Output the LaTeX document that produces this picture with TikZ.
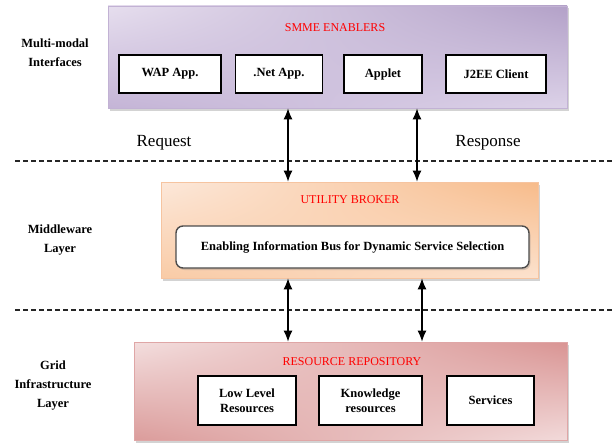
\documentclass[tikz,border=0pt]{standalone}
\usepackage{fontspec}
\setmainfont{Liberation Serif}
\usetikzlibrary{arrows.meta,shadows,shadings,calc}
\definecolor{purpA}{HTML}{E6DEEE}
\definecolor{purpB}{HTML}{B3A1C8}
\definecolor{purpC}{HTML}{C4B4D6}
\definecolor{purpD}{HTML}{DCD2E8}
\definecolor{purpE}{HTML}{C2B2D4}
\definecolor{orA}{HTML}{FCE8DA}
\definecolor{orB}{HTML}{F7BB8A}
\definecolor{orC}{HTML}{F9CBA6}
\definecolor{orD}{HTML}{FCE2CE}
\definecolor{orE}{HTML}{F6C4A0}
\definecolor{rdA}{HTML}{F3DEDE}
\definecolor{rdB}{HTML}{D99493}
\definecolor{rdC}{HTML}{DB9C9B}
\definecolor{rdD}{HTML}{F2DADA}
\definecolor{rdE}{HTML}{DFA6A6}
\begin{document}
\begin{tikzpicture}[x=1pt,y=-1pt,
  layerbox/.style={draw=#1, line width=0.8pt, inner sep=0pt,
    drop shadow={opacity=0.35,shadow xshift=2pt,shadow yshift=-2.5pt}},
  appbox/.style={draw=black, line width=1.4pt, fill=white, inner sep=0pt,
    align=center, font=\fontsize{12.5}{15}\selectfont\bfseries},
  titletext/.style={text=red, font=\fontsize{12}{14}\selectfont},
  sidelabel/.style={align=center, font=\fontsize{12.5}{19}\selectfont\bfseries},
  flowtext/.style={font=\fontsize{17}{19}\selectfont},
  arr/.style={line width=1.1pt, {Latex[length=11pt,width=9pt]}-{Latex[length=11pt,width=9pt]}},
  dashline/.style={line width=1.1pt, draw=black!85, dash pattern=on 5pt off 3pt}
]
\useasboundingbox (0,0) rectangle (616,444);

% layer containers
\node[layerbox=purpE, minimum width=459pt, minimum height=102pt,
  upper left=purpA, upper right=purpB, lower left=purpC, lower right=purpD]
  (top) at (337.5,57) {};
\node[layerbox=orE, minimum width=377pt, minimum height=96pt,
  upper left=orA, upper right=orB, lower left=orC, lower right=orD]
  (broker) at (349.5,230) {};
\node[layerbox=rdE, minimum width=433pt, minimum height=98pt,
  upper left=rdA, upper right=rdB, lower left=rdC, lower right=rdD]
  (repo) at (350.5,391) {};

% titles
\node[titletext] (t1) at (335,28) {SMME ENABLERS};
\node[titletext] (t2) at (350,200) {UTILITY BROKER};
\node[titletext] (t3) at (352,362) {RESOURCE REPOSITORY};

% top layer boxes
\node[appbox, minimum width=102pt, minimum height=38pt] (wap) at (170,74) {WAP App.};
\node[appbox, minimum width=87pt, minimum height=38pt] (net) at (279,74) {.Net App.};
\node[appbox, minimum width=78pt, minimum height=38pt] (applet) at (383,74) {Applet};
\node[appbox, minimum width=100pt, minimum height=38pt] (j2ee) at (496,74) {J2EE Client};

% middleware inner bus
\node[draw=black!70, line width=1.4pt, fill=white, rounded corners=7pt,
  minimum width=353pt, minimum height=42pt, inner sep=0pt,
  drop shadow={opacity=0.3,shadow xshift=1.5pt,shadow yshift=-2pt},
  font=\fontsize{12.5}{15}\selectfont\bfseries]
  (bus) at (352.5,247) {Enabling Information Bus for Dynamic Service Selection};

% bottom boxes
\node[appbox, minimum width=98pt, minimum height=49pt] (low) at (247,400.5) {Low Level\\Resources};
\node[appbox, minimum width=103pt, minimum height=49pt] (know) at (370.5,400.5) {Knowledge\\resources};
\node[appbox, minimum width=87pt, minimum height=49pt] (serv) at (490.5,400.5) {Services};

% side labels
\node[sidelabel] (l1) at (55,53) {Multi-modal\\Interfaces};
\node[sidelabel] (l2) at (60,240) {Middleware\\Layer};
\node[sidelabel] (l3) at (53,386) {Grid\\Infrastructure\\Layer};

% request / response
\node[flowtext] (req) at (164,143) {Request};
\node[flowtext] (resp) at (488,143) {Response};

% dashed separators
\coordinate (d1l) at (15,161);
\coordinate (d1r) at (612,161);
\coordinate (d2l) at (15,310);
\coordinate (d2r) at (612,310);
\draw[dashline] (d1l) -- (d1r);
\draw[dashline] (d2l) -- (d2r);

% arrows
\coordinate (c1) at (288,0);
\coordinate (c2) at (417,0);
\coordinate (c3) at (288,0);
\coordinate (c4) at (422,0);
\draw[arr] (top.south -| c1) -- (broker.north -| c1);
\draw[arr] (top.south -| c2) -- (broker.north -| c2);
\draw[arr] (broker.south -| c3) -- (repo.north -| c3);
\draw[arr] (broker.south -| c4) -- (repo.north -| c4);
\end{tikzpicture}
\end{document}
